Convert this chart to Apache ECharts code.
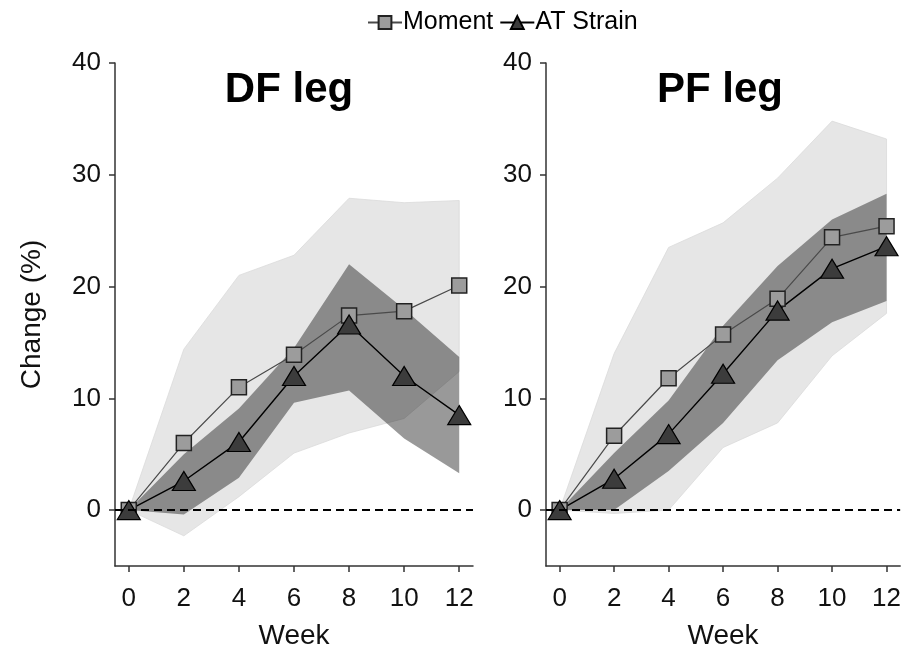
<!DOCTYPE html>
<html>
<head>
<meta charset="utf-8">
<script src="https://cdn.jsdelivr.net/npm/echarts@6/dist/echarts.min.js"></script>
<style>
  html, body { margin: 0; padding: 0; background: #fff; }
  #chart { width: 904px; height: 655px; }
</style>
</head>
<body>
<div id="chart"></div>
<script>
// week axis
const weeks = [0, 2, 4, 6, 8, 10, 12];
const xTicks = [0, 2, 4, 6, 8, 10, 12];
const yTicks = [0, 10, 20, 30, 40];

// DF leg (left panel)
const dfMoment = [0, 6.0, 11.0, 13.9, 17.4, 17.8, 20.1];
const dfStrain = [0, 2.6, 6.1, 12.0, 16.6, 12.0, 8.5];
const dfMomentLo = [0, -2.3, 1.2, 5.1, 6.9, 8.2, 12.4];
const dfMomentHi = [0, 14.4, 21.0, 22.8, 27.9, 27.5, 27.7];
const dfStrainLo = [0, -0.4, 2.9, 9.6, 10.7, 6.4, 3.3];
const dfStrainHi = [0, 5.0, 9.1, 14.5, 22.0, 18.0, 13.7];

// PF leg (right panel)
const pfMoment = [0, 6.65, 11.8, 15.7, 18.9, 24.4, 25.4];
const pfStrain = [0, 2.8, 6.8, 12.2, 17.85, 21.6, 23.6];
const pfMomentLo = [0, -0.3, 0, 5.6, 7.8, 13.8, 17.6];
const pfMomentHi = [0, 14.0, 23.5, 25.7, 29.7, 34.8, 33.2];
const pfStrainLo = [0, 0, 3.5, 7.8, 13.4, 16.8, 18.7];
const pfStrainHi = [0, 5.1, 9.8, 16.5, 21.85, 26.0, 28.3];

const FONT = 'Liberation Sans, Arial, sans-serif';

function pairs(ys) {
  return weeks.map((w, i) => [w, ys[i]]);
}

// shaded band drawn as one polygon, upper edge then lower edge back
function band(lo, hi, idx, color, edge) {
  return {
    type: 'custom', xAxisIndex: idx, yAxisIndex: idx, silent: true,
    data: weeks.map((w, i) => [w, lo[i], hi[i]]),
    renderItem: function (params, api) {
      if (params.dataIndexInside !== 0) return;
      const n = params.dataInsideLength;
      const top = [], bot = [];
      for (let j = 0; j < n; j++) {
        top.push(api.coord([api.value(0, j), api.value(2, j)]));
        bot.unshift(api.coord([api.value(0, j), api.value(1, j)]));
      }
      return {
        type: 'polygon',
        shape: { points: top.concat(bot) },
        style: { fill: color, stroke: edge || null, lineWidth: edge ? 0.8 : 0 }
      };
    }
  };
}

function panel(idx, moment, strain, mLo, mHi, sLo, sHi) {
  return [
    band(mLo, mHi, idx, '#e6e6e6', '#dadada'),
    band(sLo, sHi, idx, 'rgba(0,0,0,0.40)', null),
    {
      name: 'Moment', type: 'line', xAxisIndex: idx, yAxisIndex: idx,
      data: pairs(moment),
      symbol: 'rect', symbolSize: 15,
      lineStyle: { color: '#4a4a4a', width: 1.2 },
      itemStyle: { color: '#9c9c9c', borderColor: '#222', borderWidth: 1.5 },
      markLine: {
        silent: true, symbol: ['none', 'none'], label: { show: false },
        lineStyle: { color: '#000', type: [8, 5], width: 2 },
        data: [{ yAxis: 0 }]
      }
    },
    {
      name: 'AT Strain', type: 'line', xAxisIndex: idx, yAxisIndex: idx,
      data: pairs(strain),
      symbol: 'triangle', symbolSize: [23, 19],
      lineStyle: { color: '#000', width: 1.4 },
      itemStyle: { color: '#3c3c3c', borderColor: '#000', borderWidth: 1.2 }
    }
  ];
}

function xAxis(idx) {
  return {
    type: 'value', gridIndex: idx, min: -0.5, max: 12.5,
    name: 'Week', nameLocation: 'middle', nameGap: 56,
    nameTextStyle: { fontSize: 28, color: '#111', fontFamily: FONT },
    axisLine: { onZero: false, lineStyle: { color: '#333', width: 1.5 } },
    axisTick: { show: true, length: 6, customValues: xTicks, lineStyle: { color: '#333', width: 1.5 } },
    axisLabel: { customValues: xTicks, fontSize: 26, color: '#111', margin: 20, fontFamily: FONT },
    splitLine: { show: false }
  };
}

function yAxis(idx) {
  return {
    type: 'value', gridIndex: idx, min: -5, max: 40,
    name: idx === 0 ? 'Change (%)' : '', nameLocation: 'middle', nameGap: 69,
    nameTextStyle: { fontSize: 28, color: '#111', fontFamily: FONT },
    axisLine: { show: true, onZero: false, lineStyle: { color: '#333', width: 1.5 } },
    axisTick: { show: true, length: 6, customValues: yTicks, lineStyle: { color: '#333', width: 1.5 } },
    axisLabel: { customValues: yTicks, fontSize: 26, color: '#111', margin: 14, fontFamily: FONT },
    splitLine: { show: false }
  };
}

const chart = echarts.init(document.getElementById('chart'));
chart.setOption({
  animation: false,
  backgroundColor: '#fff',
  title: [
    { text: 'DF leg', left: 284, top: 64, textAlign: 'center',
      textStyle: { fontSize: 42, fontWeight: 'bold', color: '#000', fontFamily: FONT } },
    { text: 'PF leg', left: 715, top: 64, textAlign: 'center',
      textStyle: { fontSize: 42, fontWeight: 'bold', color: '#000', fontFamily: FONT } }
  ],
  legend: {
    data: ['Moment', 'AT Strain'],
    top: 5, left: 362,
    itemWidth: 34, itemHeight: 16, itemGap: 6,
    textStyle: { fontSize: 25, color: '#000', fontFamily: FONT, padding: [0, 0, 0, -4] }
  },
  grid: [
    { left: 115, top: 63, width: 358, height: 505 },
    { left: 546, top: 63, width: 358, height: 505 }
  ],
  xAxis: [xAxis(0), xAxis(1)],
  yAxis: [yAxis(0), yAxis(1)],
  series: [
    ...panel(0, dfMoment, dfStrain, dfMomentLo, dfMomentHi, dfStrainLo, dfStrainHi),
    ...panel(1, pfMoment, pfStrain, pfMomentLo, pfMomentHi, pfStrainLo, pfStrainHi)
  ]
});
</script>
</body>
</html>
